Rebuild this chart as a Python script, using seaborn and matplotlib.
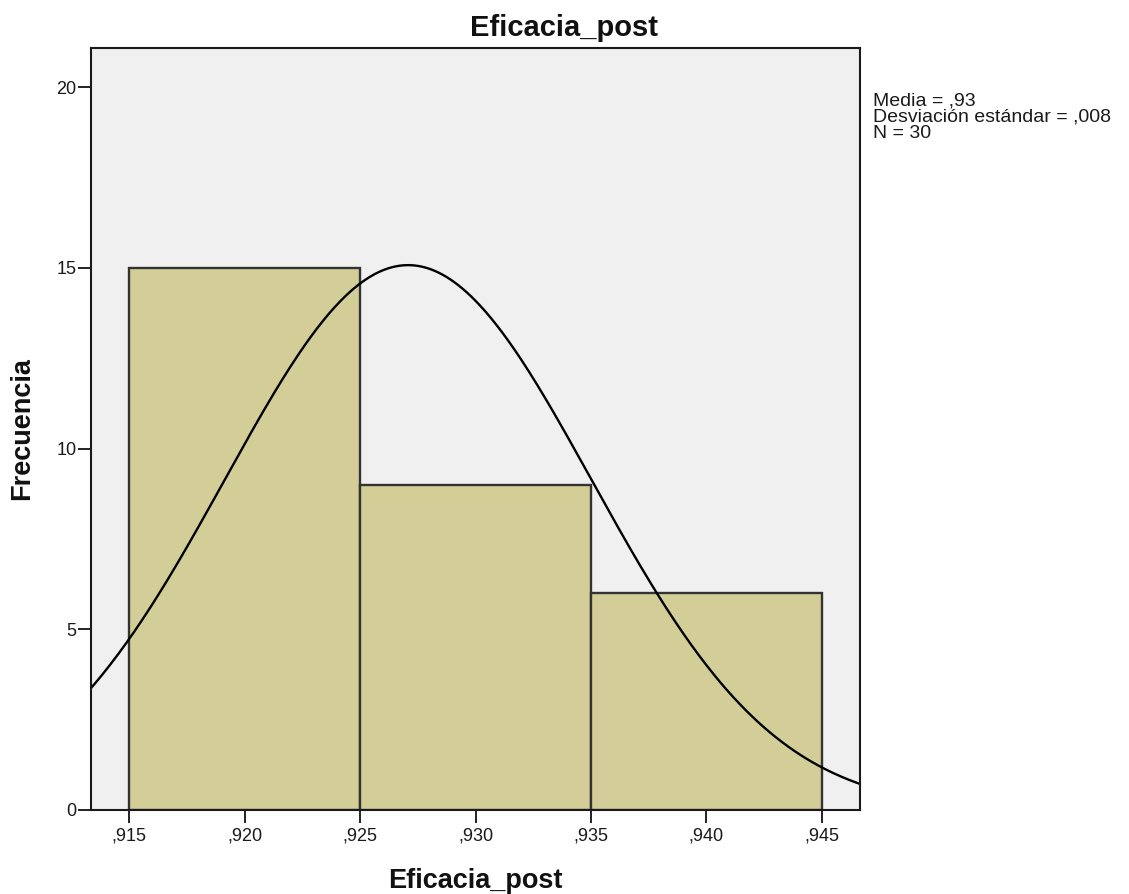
import numpy as np
import pandas as pd
import matplotlib
matplotlib.use("Agg")
import matplotlib.pyplot as plt
import seaborn as sns

# Histogram of Eficacia_post with a fitted normal curve
bin_edges = [0.915, 0.925, 0.935, 0.945]
bin_mids = [0.920, 0.930, 0.940]
counts = [15, 9, 6]

mean_val = 0.92708
sd_val = 0.00794
n_total = 30

x_ticks = [0.915, 0.920, 0.925, 0.930, 0.935, 0.940, 0.945]
x_tick_labels = [",915", ",920", ",925", ",930", ",935", ",940", ",945"]
y_ticks = [0, 5, 10, 15, 20]
y_tick_labels = ["0", "5", "10", "15", "20"]

stats_lines = ["Media = ,93", "Desviación estándar = ,008", "N = 30"]

sns.set_style("white")
plt.rcParams["font.family"] = ["Liberation Sans", "DejaVu Sans"]

W, H = 1129, 894
fig = plt.figure(figsize=(W / 100, H / 100), dpi=100)
ax = fig.add_axes([91 / W, 1 - 810 / H, (860 - 91) / W, (810 - 48) / H])
ax.set_facecolor("#f0f0f0")

df = pd.DataFrame({"valor": bin_mids, "frecuencia": counts})
sns.histplot(data=df, x="valor", weights="frecuencia", bins=bin_edges,
             color="#d3ce98", alpha=1.0, edgecolor="#333333", linewidth=1.7,
             ax=ax)

# Normal curve scaled to counts (N * bin width)
bin_width = bin_edges[1] - bin_edges[0]
xs = np.linspace(0.9125, 0.9475, 400)
ys = n_total * bin_width / (sd_val * np.sqrt(2 * np.pi)) * np.exp(-0.5 * ((xs - mean_val) / sd_val) ** 2)
sns.lineplot(x=xs, y=ys, color="black", linewidth=1.7, ax=ax)

ax.set_xlim(0.91334, 0.94666)
ax.set_ylim(0, 21.08)
ax.set_xticks(x_ticks)
ax.set_xticklabels(x_tick_labels)
ax.set_yticks(y_ticks)
ax.set_yticklabels(y_tick_labels)
ax.tick_params(axis="both", which="both", direction="out", length=9.5, width=1.4,
               color="#222222", labelsize=13, labelcolor="#1a1a1a",
               bottom=True, left=True, top=False, right=False)
ax.tick_params(axis="x", pad=3)
ax.tick_params(axis="y", pad=1)
for s in ax.spines.values():
    s.set_visible(True)
    s.set_color("#1a1a1a")
    s.set_linewidth(1.5)

ax.set_xlabel("")
ax.set_ylabel("")
ax.grid(False)

# Title, axis labels
fig.text(0.5, 1 - 36 / H, "Eficacia_post", ha="center", va="baseline",
         fontsize=21, fontweight="bold", color="#111111")
fig.text((91 + 860) / 2 / W, 1 - 888 / H, "Eficacia_post", ha="center", va="baseline",
         fontsize=19.5, fontweight="bold", color="#111111")
fig.text(22 / W, 1 - 429 / H, "Frecuencia", ha="center", va="center", rotation=90,
         fontsize=19.5, fontweight="bold", color="#111111")

# Summary statistics
for i, line in enumerate(stats_lines):
    fig.text(873 / W, 1 - (106 + 16 * i) / H, line, ha="left", va="baseline",
             fontsize=14, color="#1a1a1a")

fig.savefig("out.png", dpi=100)
